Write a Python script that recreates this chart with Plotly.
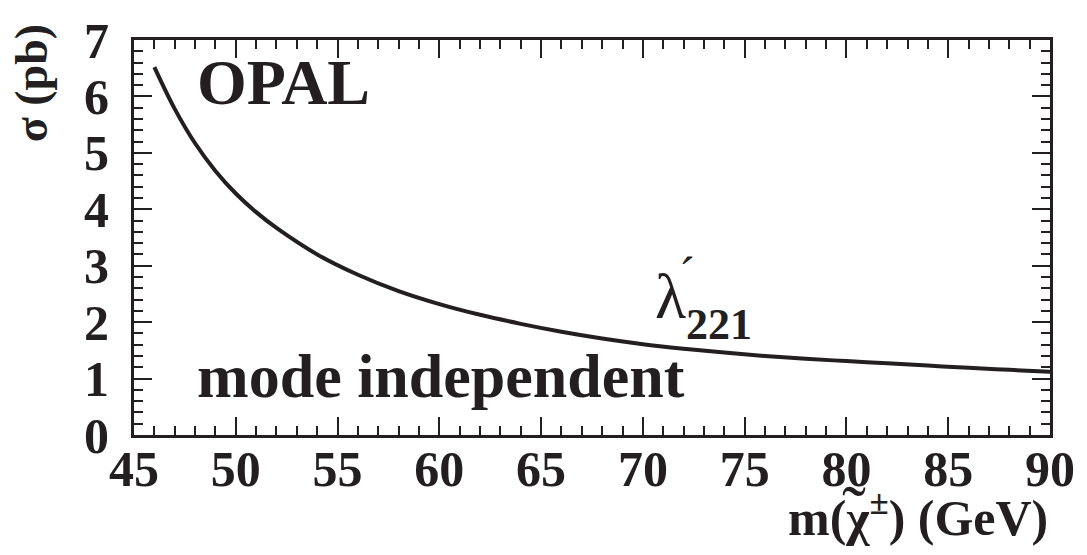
import plotly.graph_objects as go

# Chargino pair cross-section vs chargino mass (lambda'_221 coupling)
mass_gev = [46, 47, 48, 49, 50, 51, 52, 54, 56, 58, 60, 62, 64, 66, 68, 70,
            72, 74, 76, 78, 80, 82, 84, 86, 88, 90]
sigma_pb = [6.52, 5.78, 5.17, 4.68, 4.28, 3.95, 3.67, 3.20, 2.84, 2.55, 2.32,
            2.13, 1.97, 1.83, 1.71, 1.61, 1.53, 1.46, 1.40, 1.35, 1.31, 1.27,
            1.23, 1.19, 1.155, 1.12]

x_ticks = [45, 50, 55, 60, 65, 70, 75, 80, 85, 90]
y_ticks = [0, 1, 2, 3, 4, 5, 6, 7]

INK = "#231f20"
SERIF = "Liberation Serif, Times New Roman, serif"

fig = go.Figure()
fig.add_trace(go.Scatter(
    x=mass_gev, y=sigma_pb, mode="lines",
    line=dict(color=INK, width=4, shape="spline", smoothing=1.0),
    hoverinfo="skip", showlegend=False,
))

axis_common = dict(
    showgrid=False, zeroline=False, showline=True, linecolor=INK, linewidth=3,
    mirror="ticks", ticks="inside", tickcolor=INK, tickwidth=2,
    ticklabeloverflow="allow",
    tickfont=dict(family=SERIF, size=50, color=INK, weight="bold"),
)

fig.update_xaxes(
    range=[45, 90], tickvals=x_ticks, ticklen=18, ticklabelstandoff=-12,
    minor=dict(dtick=1, ticklen=9, ticks="inside", tickcolor=INK, tickwidth=2, showgrid=False),
    **axis_common,
)
fig.update_yaxes(
    range=[0, 7], tickvals=y_ticks, ticklen=18, ticklabelstandoff=12,
    minor=dict(dtick=0.2, ticklen=9, ticks="inside", tickcolor=INK, tickwidth=2, showgrid=False),
    **axis_common,
)

def label(text, x, y, size, xref="x", yref="y", xanchor="left", yanchor="middle",
          angle=0, bold=True):
    fig.add_annotation(
        text=text, x=x, y=y, xref=xref, yref=yref, xanchor=xanchor, yanchor=yanchor,
        showarrow=False, textangle=angle,
        font=dict(family=SERIF, size=size, color=INK, weight="bold" if bold else "normal"),
    )

label("OPAL", 48.0, 6.25, 64)
label("mode independent", 48.0, 1.05, 62)
label("λ", 70.5, 2.45, 64, bold=False)
label("´", 71.7, 2.85, 48, bold=False)
label("221", 72.0, 1.95, 44)

# Axis titles
label("σ (pb)", -0.112, 1.046, 46, xref="paper", yref="paper", xanchor="center",
      yanchor="top", angle=-90)
label("m(χ<sup>±</sup>) (GeV)", 1.0, -0.20, 50, xref="paper", yref="paper",
      xanchor="right", yanchor="middle")
# tilde accent over chi
label("˜", 0.786, -0.193, 72, xref="paper", yref="paper", xanchor="center",
      bold=False)

fig.update_layout(
    width=1087, height=555,
    margin=dict(l=134, r=28, t=24, b=120),
    paper_bgcolor="white", plot_bgcolor="white",
)

fig.write_html("out.html")
